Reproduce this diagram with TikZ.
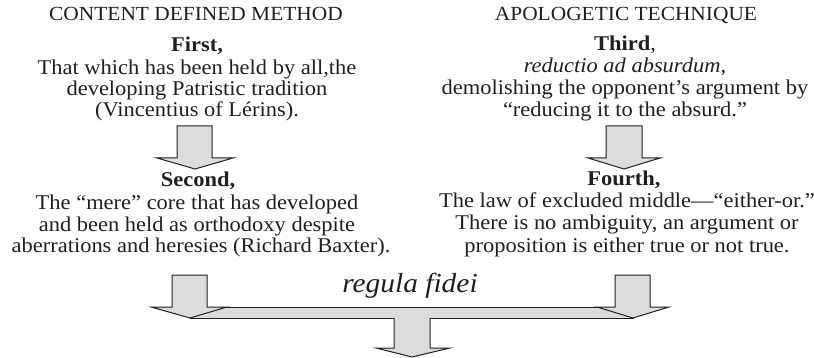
\documentclass[tikz,border=0pt]{standalone}
\usepackage{fontspec}
\setmainfont{Liberation Serif}[FakeStretch=1.07]
\definecolor{arrowfill}{RGB}{220,220,220}
\definecolor{ink}{RGB}{35,31,32}
\tikzset{
  txt/.style={inner sep=0pt, anchor=base, text=ink, font=\fontsize{21}{21}\selectfont},
  head/.style={txt, font=\fontsize{20}{20}\selectfont},
  blockarrow/.style={fill=arrowfill, draw=ink, line width=1pt, line join=miter},
}
\begin{document}
\begin{tikzpicture}[x=1pt,y=-1pt]
\useasboundingbox (0,0) rectangle (814,358);
% headers
\node[head] (h1) at (196,21) {CONTENT DEFINED METHOD};
\node[head] (h2) at (626,21) {APOLOGETIC TECHNIQUE};
% left upper block
\node[txt] (l1) at (197,52) {\textbf{First,}};
\node[txt] (l2) at (197,75) {That which has been held by all,the};
\node[txt] (l3) at (197,96) {developing Patristic tradition};
\node[txt] (l4) at (197,117) {(Vincentius of Lérins).};
% left lower block
\node[txt] (l5) at (198,187) {\textbf{Second,}};
\node[txt] (l6) at (197,210) {The “mere” core that has developed};
\node[txt] (l7) at (197,232) {and been held as orthodoxy despite};
\node[txt] (l8) at (201,253) {aberrations and heresies (Richard Baxter).};
% right upper block
\node[txt] (r1) at (625,51) {\textbf{Third},};
\node[txt] (r2) at (625,73) {\textit{reductio ad absurdum},};
\node[txt] (r3) at (625,95) {demolishing the opponent’s argument by};
\node[txt] (r4) at (625,117) {“reducing it to the absurd.”};
% right lower block
\node[txt] (r5) at (624,186) {\textbf{Fourth,}};
\node[txt] (r6) at (627,208) {The law of excluded middle—“either-or.”};
\node[txt] (r7) at (627,230) {There is no ambiguity, an argument or};
\node[txt] (r8) at (627,252) {proposition is either true or not true.};
% regula fidei
\node[txt, font=\fontsize{27.5}{27.5}\selectfont\itshape] (rf) at (410,292) {regula fidei};
% upper block arrows
\draw[blockarrow] (177,126) -- (212,126) -- (212,158) -- (233,158) -- (195,169) -- (157,158) -- (177,158) -- cycle;
\draw[blockarrow] (606,126) -- (642,126) -- (642,158) -- (660,158) -- (624,169) -- (588,158) -- (606,158) -- cycle;
% bottom bar
\draw[blockarrow] (190,307) rectangle (633,318);
\draw[blockarrow] (172,275) -- (207,275) -- (207,307) -- (227,307) -- (190,318) -- (151,307) -- (172,307) -- cycle;
\draw[blockarrow] (615,275) -- (650,275) -- (650,307) -- (669,307) -- (633,318) -- (597,307) -- (615,307) -- cycle;
% center output arrow
\fill[arrowfill] (394,317.2) -- (394,348) -- (376,348) -- (412,357) -- (450,348) -- (430,348) -- (430,317.2) -- cycle;
\draw[blockarrow, fill=none] (394,318) -- (394,348) -- (376,348) -- (412,357) -- (450,348) -- (430,348) -- (430,318);
\end{tikzpicture}
\end{document}
